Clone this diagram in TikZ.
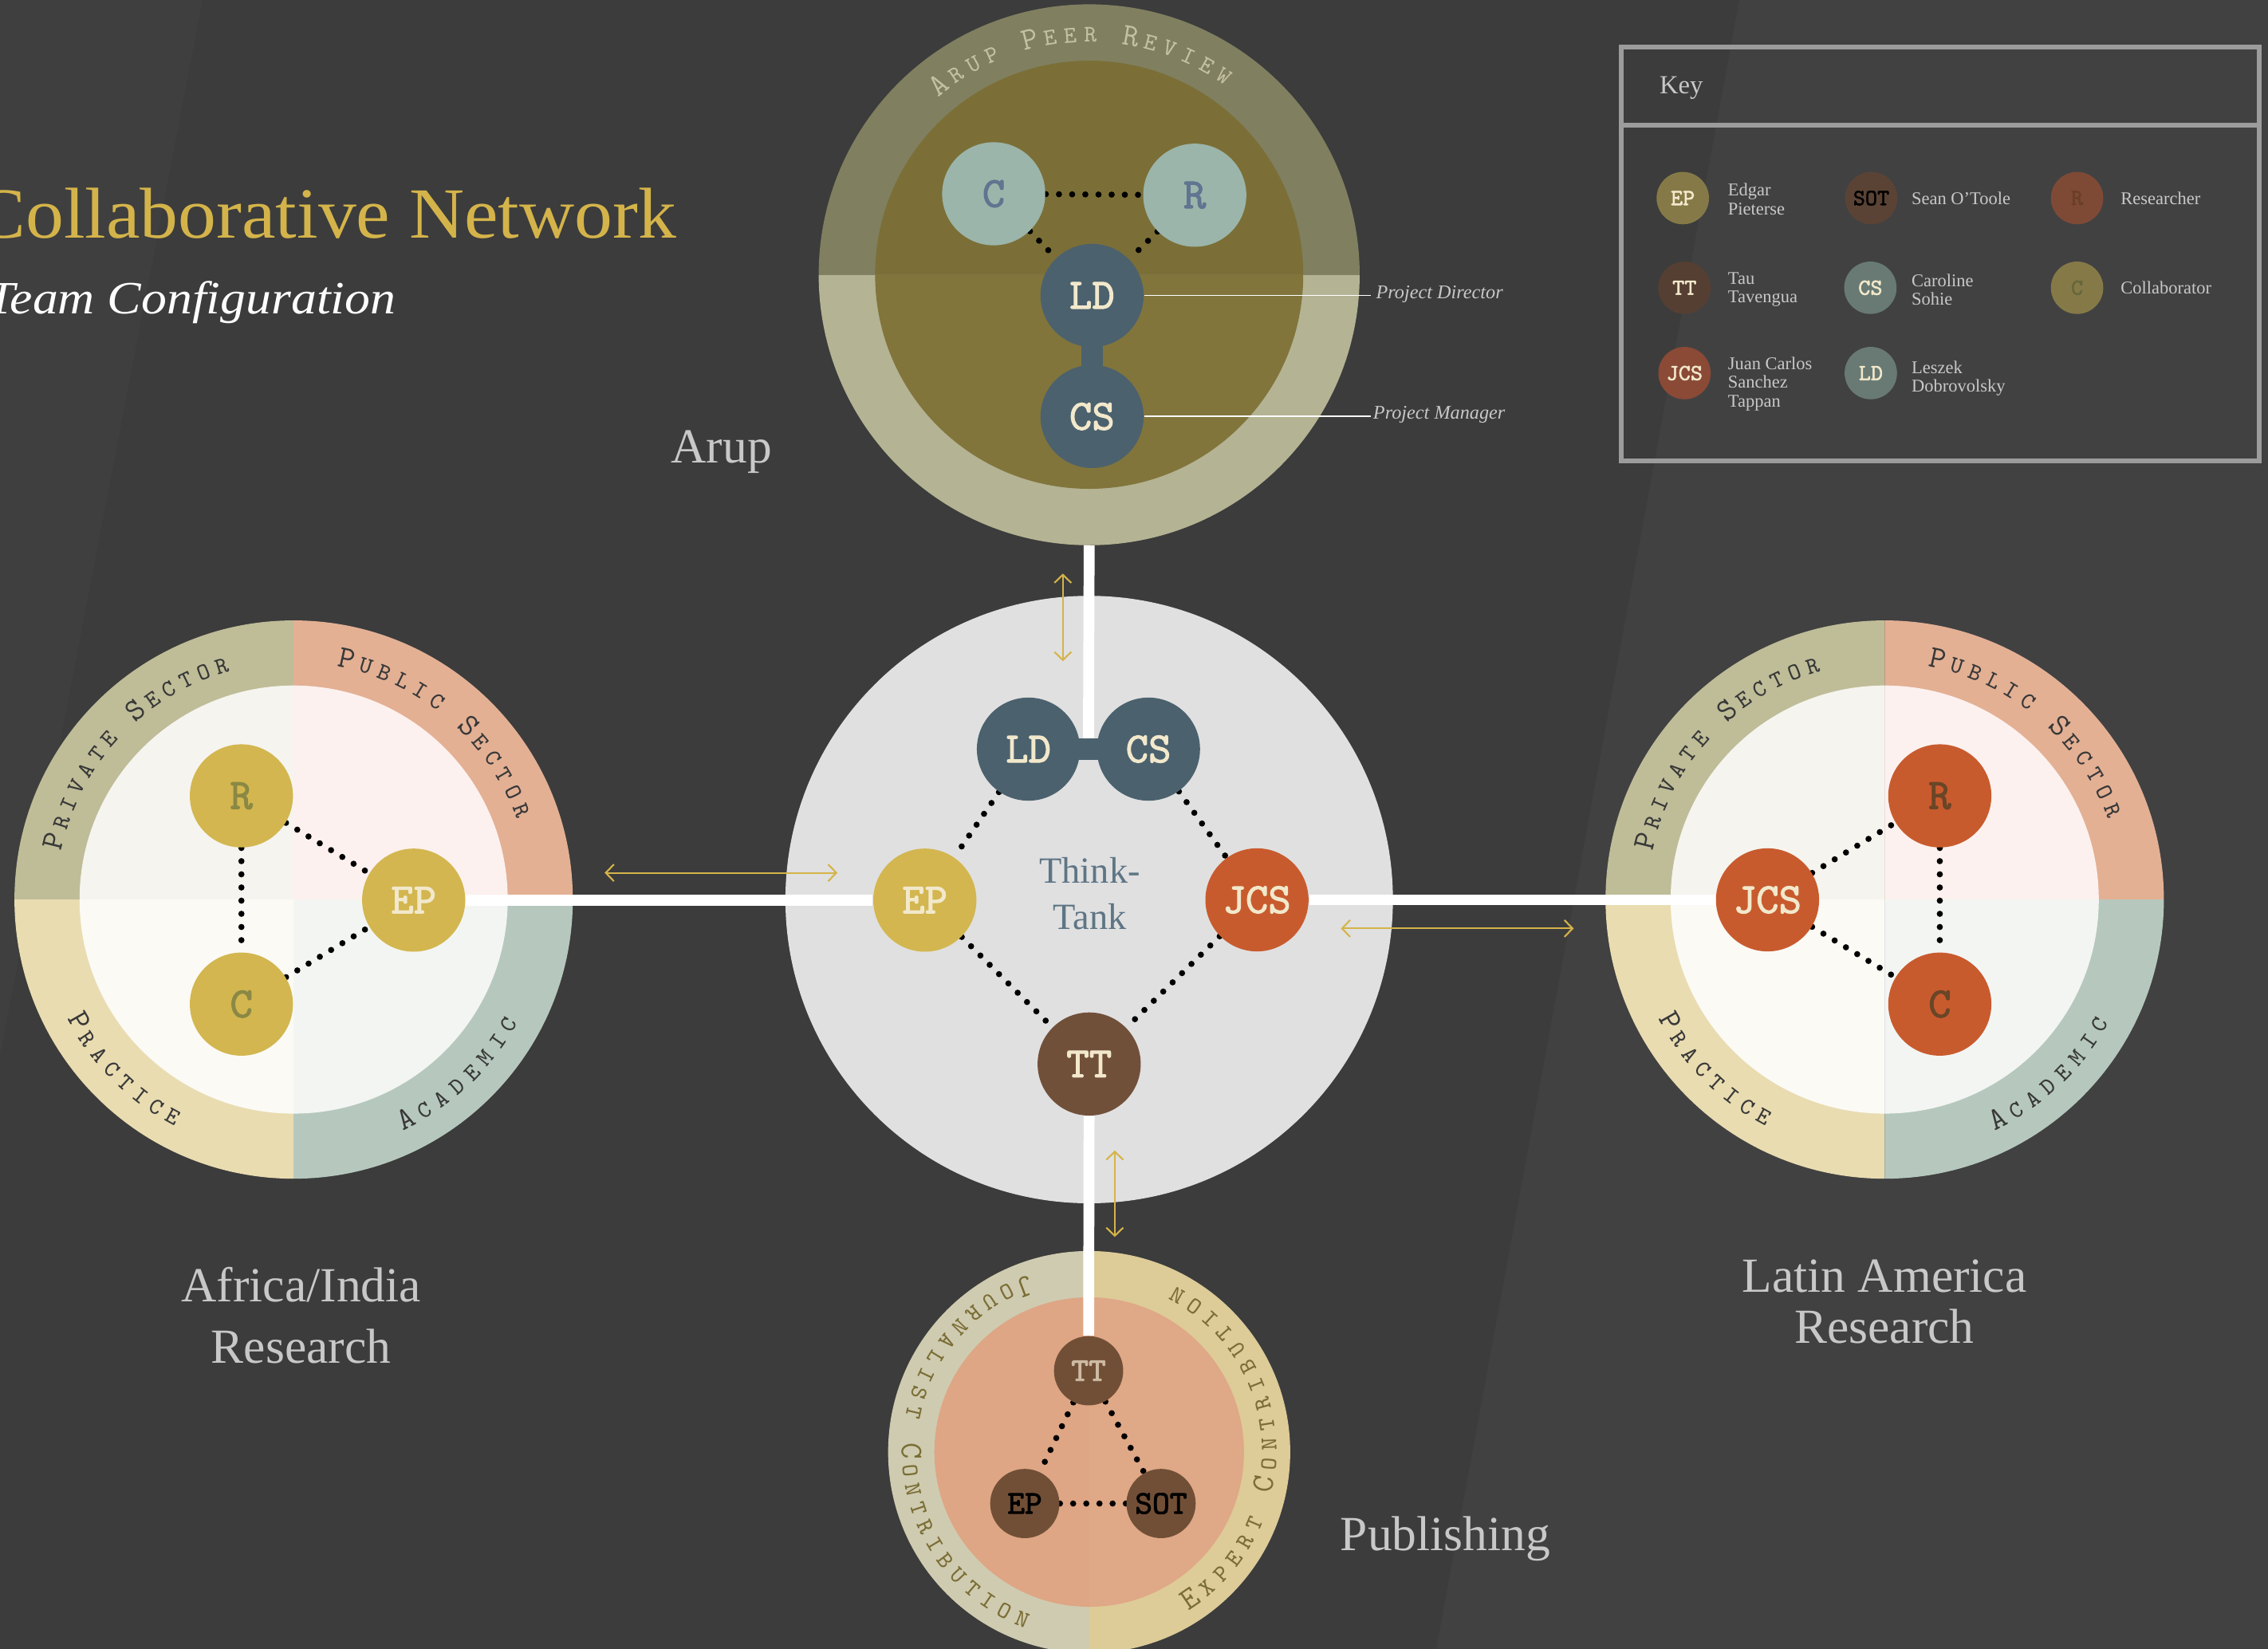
\documentclass[tikz,border=0pt]{standalone}
\usepackage{fontspec}
\usepackage{graphicx}
\setmainfont{Liberation Serif}
\newfontfamily\labelf[FakeBold=2]{lmmono10-regular.otf}
\usetikzlibrary{arrows.meta,calc}
\pgfdeclarelayer{bg}
\pgfdeclarelayer{lines}
\pgfsetlayers{bg,lines,main}

\definecolor{bgmid}{HTML}{3C3C3C}
\definecolor{bgleft}{HTML}{3F3F3F}
\definecolor{bgright}{HTML}{414142}
\definecolor{gold}{HTML}{D4B44A}
\definecolor{lighttext}{HTML}{C8C8C8}
\definecolor{arupouttop}{HTML}{807F60}
\definecolor{arupoutbot}{HTML}{B4B393}
\definecolor{arupintop}{HTML}{7B6F37}
\definecolor{arupinbot}{HTML}{81753C}
\definecolor{arupringtext}{HTML}{C4C1A0}
\definecolor{sage}{HTML}{9BB5AA}
\definecolor{sagetext}{HTML}{607590}
\definecolor{slate}{HTML}{4B616E}
\definecolor{cream}{HTML}{F2E8CB}
\definecolor{thinkbg}{HTML}{E0E0E0}
\definecolor{thinktext}{HTML}{5E7585}
\definecolor{epgold}{HTML}{D3B64F}
\definecolor{jcsred}{HTML}{C85B2E}
\definecolor{ttbrown}{HTML}{71503A}
\definecolor{privring}{HTML}{BFBD98}
\definecolor{pubring}{HTML}{E3B094}
\definecolor{pracring}{HTML}{E9DCB1}
\definecolor{acadring}{HTML}{B6C8BD}
\definecolor{privin}{HTML}{F5F4EF}
\definecolor{pubin}{HTML}{FCF1EE}
\definecolor{pracin}{HTML}{FBFAF5}
\definecolor{acadin}{HTML}{F3F5F3}
\definecolor{ringdark}{HTML}{383838}
\definecolor{olivetext}{HTML}{8A8844}
\definecolor{browntext}{HTML}{6B4527}
\definecolor{pubjourn}{HTML}{CFCBB0}
\definecolor{pubexp}{HTML}{DDCB98}
\definecolor{pubinnerl}{HTML}{DEA684}
\definecolor{pubinnerr}{HTML}{DFA886}
\definecolor{pubnodec}{HTML}{714F37}
\definecolor{ttlabel}{HTML}{CDBBA2}
\definecolor{pubringtext}{HTML}{7A6D35}
\definecolor{keyborder}{HTML}{9C9C9C}
\definecolor{keytextc}{HTML}{C8C8C8}
\definecolor{kep}{HTML}{857A47}
\definecolor{ksot}{HTML}{5A4335}
\definecolor{kr}{HTML}{7E4A36}
\definecolor{krtext}{HTML}{6B3E28}
\definecolor{ktt}{HTML}{553F33}
\definecolor{kcs}{HTML}{687A73}
\definecolor{kctext}{HTML}{66663C}
\definecolor{kjcs}{HTML}{8A4A36}

\newcommand\lblfont{\labelf\fontsize{15.4pt}{15.4pt}\selectfont}
\newcommand\publblfont{\labelf\fontsize{11.8pt}{11.8pt}\selectfont}
\newcommand\keylblfont{\labelf\fontsize{8.2pt}{8.2pt}\selectfont}
\newcommand\ringB{\ttfamily\fontsize{11.3pt}{11.3pt}\selectfont}
\newcommand\ringS{\ttfamily\fontsize{8.5pt}{8.5pt}\selectfont}
\newcommand\regionfont{\fontsize{17.5pt}{17.5pt}\selectfont}
\newcommand\titlefont{\fontsize{25.7pt}{25.7pt}\selectfont}
\newcommand\subtitlefont{\itshape\fontsize{16.5pt}{16.5pt}\selectfont}
\newcommand\thinkfont{\fontsize{13.2pt}{13.2pt}\selectfont}
\newcommand\rolefont{\itshape\fontsize{6.9pt}{6.9pt}\selectfont}
\newcommand\keytitlefont{\fontsize{9.3pt}{9.3pt}\selectfont}
\newcommand\keytextfont{\fontsize{6.4pt}{6.7pt}\selectfont}

% filled sector: color, center, start angle, end angle, radius
\newcommand\quadfill[5]{\fill[#1] (#2) -- ++(#3:#5) arc[start angle=#3,end angle=#4,radius=#5] -- cycle;}

% text along a circle: prefix, center, baseline radius, start angle, step, rotation offset, colour, list
\newcommand\ringtext[8]{%
  \foreach \sz/\ch [count=\ii from 0] in {#8}{%
    \pgfmathsetmacro\ang{#4+\ii*(#5)}%
    \node[name=#1\ii, inner sep=0pt, anchor=base, text=#7, font=\csname ring\sz\endcsname, rotate=\ang#6] at ([shift={(\ang:#3)}]#2) {\ch};
  }%
}

\begin{document}
\begin{tikzpicture}[x=0.018138cm, y=0.018138cm,
  pnode/.style={circle, inner sep=0pt, minimum size=36.8pt, font=\lblfont},
  pubnode/.style={circle, inner sep=0pt, minimum size=24.7pt, font=\publblfont, fill=pubnodec},
  keynode/.style={circle, inner sep=0pt, minimum size=18.7pt, font=\keylblfont},
  dotline/.style={draw=black, line width=2.2pt, dash pattern=on 0pt off 4.7pt, line cap=round},
  whitebar/.style={draw=white, line width=3.9pt},
  linkbar/.style={draw=slate, line width=7.7pt},
  goldarrow/.style={draw=gold, line width=0.6pt, {Straight Barb[length=2.9pt,width=6pt]}-{Straight Barb[length=2.9pt,width=6pt]}},
  region/.style={font=\regionfont, text=lighttext, inner sep=0pt},
  roleline/.style={draw=white, line width=0.5pt},
  role/.style={font=\rolefont, text=lighttext, inner sep=0pt, anchor=base west},
  keytext/.style={font=\keytextfont, text=keytextc, inner sep=0pt, anchor=west, align=left},
]
\useasboundingbox (0,0) rectangle (1568,1140);

\begin{pgfonlayer}{bg}
  % background with faint diagonal bands
  \fill[bgmid] (0,0) rectangle (1568,1140);
  \fill[bgleft] (0,1140) -- (140,1140) -- (0,410) -- cycle;
  \fill[bgright] (1202.5,1140) -- (1568,1140) -- (1568,0) -- (993,0) -- cycle;

  % Arup circle
  \quadfill{arupouttop}{753,950}{0}{180}{187}
  \quadfill{arupoutbot}{753,950}{180}{360}{187}
  \quadfill{arupintop}{753,950}{0}{180}{148}
  \quadfill{arupinbot}{753,950}{180}{360}{148}

  % Think-tank circle
  \fill[thinkbg] (753,518) circle[radius=210];

  % Africa/India circle
  \quadfill{privring}{203,518}{90}{180}{193}
  \quadfill{pubring}{203,518}{0}{90}{193}
  \quadfill{pracring}{203,518}{180}{270}{193}
  \quadfill{acadring}{203,518}{270}{360}{193}
  \quadfill{privin}{203,518}{90}{180}{148}
  \quadfill{pubin}{203,518}{0}{90}{148}
  \quadfill{pracin}{203,518}{180}{270}{148}
  \quadfill{acadin}{203,518}{270}{360}{148}

  % Latin America circle
  \quadfill{privring}{1303,518}{90}{180}{193}
  \quadfill{pubring}{1303,518}{0}{90}{193}
  \quadfill{pracring}{1303,518}{180}{270}{193}
  \quadfill{acadring}{1303,518}{270}{360}{193}
  \quadfill{privin}{1303,518}{90}{180}{148}
  \quadfill{pubin}{1303,518}{0}{90}{148}
  \quadfill{pracin}{1303,518}{180}{270}{148}
  \quadfill{acadin}{1303,518}{270}{360}{148}

  % Publishing circle
  \quadfill{pubjourn}{753,136}{90}{270}{139}
  \quadfill{pubexp}{753,136}{-90}{90}{139}
  \quadfill{pubinnerl}{753,136}{90}{270}{107}
  \quadfill{pubinnerr}{753,136}{-90}{90}{107}
\end{pgfonlayer}

% ---------- titles ----------
\node[anchor=base east, inner sep=0pt, font=\titlefont, text=gold] (title) at (468,975.5) {\scalebox{1.06}[1]{Collaborative Network}};
\node[anchor=base east, inner sep=0pt, font=\subtitlefont, text=white] (subtitle) at (274,923.2) {\scalebox{1.1}[1]{Team Configuration}};

% ---------- region labels ----------
\node[region, anchor=base west] (arupl) at (463.6,820) {Arup};
\node[region, anchor=base] (afr1) at (208.2,239.8) {Africa/India};
\node[region, anchor=base] (afr2) at (208.2,197.7) {Research};
\node[region, anchor=base] (lat1) at (1302.8,246.3) {Latin America};
\node[region, anchor=base] (lat2) at (1302.8,211.5) {Research};
\node[region, anchor=base west] (publ) at (926.4,67.9) {Publishing};

% ---------- ring texts ----------
\ringtext{apr}{753,950}{161}{128.4}{-4.84}{-90}{arupringtext}{B/A,S/R,S/U,S/P,S/{},B/P,S/E,S/E,S/R,S/{},B/R,S/E,S/V,S/I,S/E,S/W}

\ringtext{lpv}{203,518}{164}{166.2}{-4.55}{-90}{ringdark}{B/P,S/R,S/I,S/V,S/A,S/T,S/E,S/{},B/S,S/E,S/C,S/T,S/O,S/R}
\ringtext{lpb}{203,518}{164}{77.5}{-4.68}{-90}{ringdark}{B/P,S/U,S/B,S/L,S/I,S/C,S/{},B/S,S/E,S/C,S/T,S/O,S/R}
\ringtext{lpr}{203,518}{177}{209.6}{4.47}{+90}{ringdark}{B/P,S/R,S/A,S/C,S/T,S/I,S/C,S/E}
\ringtext{lac}{203,518}{177}{297.2}{4.66}{+90}{ringdark}{B/A,S/C,S/A,S/D,S/E,S/M,S/I,S/C}

\ringtext{rpv}{1303,518}{164}{166.2}{-4.55}{-90}{ringdark}{B/P,S/R,S/I,S/V,S/A,S/T,S/E,S/{},B/S,S/E,S/C,S/T,S/O,S/R}
\ringtext{rpb}{1303,518}{164}{77.5}{-4.68}{-90}{ringdark}{B/P,S/U,S/B,S/L,S/I,S/C,S/{},B/S,S/E,S/C,S/T,S/O,S/R}
\ringtext{rpr}{1303,518}{177}{209.6}{4.47}{+90}{ringdark}{B/P,S/R,S/A,S/C,S/T,S/I,S/C,S/E}
\ringtext{rac}{1303,518}{177}{297.2}{4.66}{+90}{ringdark}{B/A,S/C,S/A,S/D,S/E,S/M,S/I,S/C}

\ringtext{pjc}{753,136}{129.5}{111}{6.24}{+90}{pubringtext}{B/J,S/O,S/U,S/R,S/N,S/A,S/L,S/I,S/S,S/T,S/{},B/C,S/O,S/N,S/T,S/R,S/I,S/B,S/U,S/T,S/I,S/O,S/N}
\ringtext{pec}{753,136}{129.5}{304.4}{6.46}{+90}{pubringtext}{B/E,S/X,S/P,S/E,S/R,S/T,S/{},B/C,S/O,S/N,S/T,S/R,S/I,S/B,S/U,S/T,S/I,S/O,S/N}

% ---------- Arup nodes ----------
\node[pnode, fill=sage, text=sagetext] (aC) at (687,1006) {C};
\node[pnode, fill=sage, text=sagetext] (aR) at (826,1005) {R};
\node[pnode, fill=slate, text=cream] (aLD) at (755,935.7) {LD};
\node[pnode, fill=slate, text=cream] (aCS) at (755,852) {CS};
\coordinate (pdend) at (947.5,935.7);
\coordinate (pmend) at (948,852);
\draw[roleline] (aLD.east) -- (pdend);
\draw[roleline] (aCS.east) -- (pmend);
\node[role] (pdir) at (951,933.3) {Project Director};
\node[role] (pman) at (949,850) {Project Manager};

% ---------- Think-tank nodes ----------
\node[pnode, fill=slate, text=cream] (tLD) at (711,622) {LD};
\node[pnode, fill=slate, text=cream] (tCS) at (794,622) {CS};
\node[pnode, fill=epgold, text=cream] (tEP) at (639.4,517.6) {EP};
\node[pnode, fill=jcsred, text=cream] (tJCS) at (869,517.8) {JCS};
\node[pnode, fill=ttbrown, text=cream] (tTT) at (753,404.3) {TT};
\node[anchor=base, inner sep=0pt, font=\thinkfont, text=thinktext] (think1) at (753.4,529.5) {Think-};
\node[anchor=base, inner sep=0pt, font=\thinkfont, text=thinktext] (think2) at (753.4,497.2) {Tank};

% ---------- Africa/India nodes ----------
\node[pnode, fill=epgold, text=olivetext] (lR) at (166.9,589.7) {R};
\node[pnode, fill=epgold, text=cream] (lEP) at (286,517.6) {EP};
\node[pnode, fill=epgold, text=olivetext] (lC) at (166.9,445.7) {C};

% ---------- Latin America nodes ----------
\node[pnode, fill=jcsred, text=browntext] (rR) at (1341.1,589.7) {R};
\node[pnode, fill=jcsred, text=cream] (rJCS) at (1222,517.8) {JCS};
\node[pnode, fill=jcsred, text=browntext] (rC) at (1341.1,445.7) {C};

% ---------- Publishing nodes ----------
\node[pubnode, text=ttlabel] (pTT) at (752.6,192.2) {TT};
\node[pubnode, text=black] (pEP) at (708.5,100.4) {EP};
\node[pubnode, text=black] (pSOT) at (802.7,100.4) {SOT};

% ---------- connectors ----------
\coordinate (arupbot) at (753,763);
\coordinate (tmid) at ($(tLD)!0.5!(tCS)$);
\begin{pgfonlayer}{lines}
  \draw[whitebar] (arupbot) -- (tmid);
  \draw[whitebar] (lEP) -- (tEP);
  \draw[whitebar] (tJCS) -- (rJCS);
  \draw[whitebar] (tTT) -- (pTT);
  \draw[linkbar] (tLD.center) -- (tCS.center);
  \draw[linkbar] (aLD.center) -- (aCS.center);
  % dotted ties
  \draw[dotline] (aC) -- (aR);
  \draw[dotline] (aC) -- (aLD);
  \draw[dotline] (aR) -- (aLD);
  \draw[dotline] (tLD) -- (tEP);
  \draw[dotline] (tCS) -- (tJCS);
  \draw[dotline] (tEP) -- (tTT);
  \draw[dotline] (tJCS) -- (tTT);
  \draw[dotline] (lR) -- (lEP);
  \draw[dotline] (lR) -- (lC);
  \draw[dotline] (lC) -- (lEP);
  \draw[dotline] (rJCS) -- (rR);
  \draw[dotline] (rJCS) -- (rC);
  \draw[dotline] (rR) -- (rC);
  \draw[dotline] (pTT) -- (pEP);
  \draw[dotline] (pTT) -- (pSOT);
  \draw[dotline] (pEP) -- (pSOT);
\end{pgfonlayer}

% ---------- gold exchange arrows ----------
\coordinate (ga1) at (734.8,743.4);
\coordinate (ga2) at (734.8,682.8);
\coordinate (gl1) at (418,536.5);
\coordinate (gl2) at (579,536.5);
\coordinate (gr1) at (927,498);
\coordinate (gr2) at (1088,498);
\coordinate (gb1) at (770.7,344.5);
\coordinate (gb2) at (770.7,284.7);
\draw[goldarrow] (ga1) -- (ga2);
\draw[goldarrow] (gl1) -- (gl2);
\draw[goldarrow] (gr1) -- (gr2);
\draw[goldarrow] (gb1) -- (gb2);

% ---------- key ----------
\draw[draw=keyborder, line width=1.65pt] (1121,1107.5) rectangle (1562,821.3);
\coordinate (kdivl) at (1121,1053.4);
\coordinate (kdivr) at (1562,1053.4);
\draw[draw=keyborder, line width=1.65pt] (kdivl) -- (kdivr);
\node[anchor=base west, inner sep=0pt, font=\keytitlefont, text=keytextc] (keytitle) at (1147,1075) {Key};

\node[keynode, fill=kep, text=cream] (kEP) at (1163.4,1003) {EP};
\node[keytext] (kEPt) at (1194.3,1002.2) {Edgar\\Pieterse};
\node[keynode, fill=ksot, text=black] (kSOT) at (1293.7,1003) {SOT};
\node[keytext] (kSOTt) at (1321.2,1003) {Sean O’Toole};
\node[keynode, fill=kr, text=krtext] (kR) at (1436,1003) {R};
\node[keytext] (kRt) at (1465.8,1003) {Researcher};

\node[keynode, fill=ktt, text=cream] (kTT) at (1164.6,941) {TT};
\node[keytext] (kTTt) at (1194.3,939.7) {Tau\\Tavengua};
\node[keynode, fill=kcs, text=cream] (kCS) at (1293.1,941) {CS};
\node[keytext] (kCSt) at (1321.2,939.7) {Caroline\\Sohie};
\node[keynode, fill=kep, text=kctext] (kC) at (1436,941) {C};
\node[keytext] (kCt) at (1465.8,941) {Collaborator};

\node[keynode, fill=kjcs, text=cream] (kJCS) at (1164.6,882) {JCS};
\node[keytext] (kJCSt) at (1194.3,874.5) {Juan Carlos\\Sanchez\\Tappan};
\node[keynode, fill=kcs, text=cream] (kLD) at (1293.4,882) {LD};
\node[keytext] (kLDt) at (1321.2,878.2) {Leszek\\Dobrovolsky};

\end{tikzpicture}
\end{document}
